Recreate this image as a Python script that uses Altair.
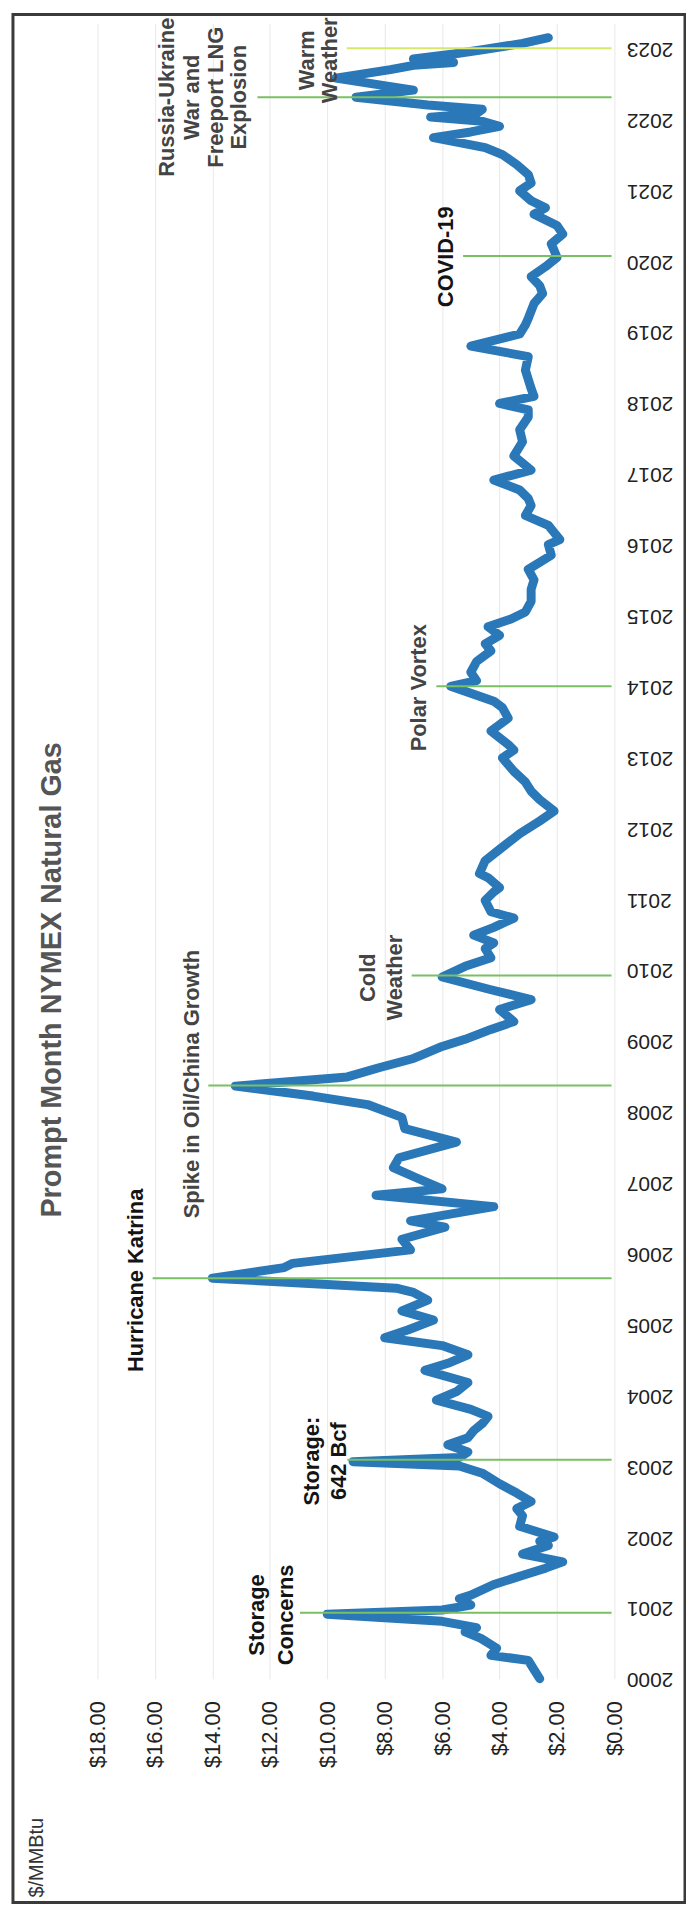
import altair as alt
import pandas as pd

# ---- price series (decimal year, $/MMBtu) ----
t_vals = [
    2000.00, 2000.13, 2000.26, 2000.33, 2000.43, 2000.57, 2000.66, 2000.72, 2000.81, 2000.91,
    2000.97, 2001.04, 2001.13, 2001.18, 2001.33, 2001.47, 2001.56, 2001.65, 2001.76, 2001.88,
    2001.94, 2002.00, 2002.15, 2002.30, 2002.40, 2002.50, 2002.62, 2002.75, 2002.90, 2003.00,
    2003.06, 2003.12, 2003.20, 2003.30, 2003.40, 2003.50, 2003.60, 2003.70, 2003.80, 2003.93,
    2004.05, 2004.18, 2004.35, 2004.45, 2004.57, 2004.70, 2004.81, 2004.92, 2005.06, 2005.19,
    2005.34, 2005.45, 2005.51, 2005.65, 2005.80, 2005.86, 2006.05, 2006.20, 2006.37, 2006.46,
    2006.66, 2006.82, 2006.91, 2007.05, 2007.21, 2007.35, 2007.57, 2007.76, 2007.92, 2008.10,
    2008.22, 2008.36, 2008.49, 2008.62, 2008.75, 2008.80, 2008.92, 2009.02, 2009.16, 2009.27,
    2009.44, 2009.58, 2009.72, 2009.90, 2010.05, 2010.17, 2010.30, 2010.38, 2010.49, 2010.60,
    2010.73, 2010.82, 2010.98, 2011.10, 2011.16, 2011.30, 2011.36, 2011.54, 2011.70, 2011.92,
    2012.10, 2012.24, 2012.40, 2012.52, 2012.65, 2012.80, 2012.99, 2013.10, 2013.18, 2013.37,
    2013.55, 2013.70, 2013.79, 2014.00, 2014.08, 2014.20, 2014.35, 2014.50, 2014.60, 2014.72,
    2014.84, 2014.95, 2015.05, 2015.20, 2015.37, 2015.50, 2015.65, 2015.85, 2016.00, 2016.07,
    2016.17, 2016.27, 2016.41, 2016.55, 2016.65, 2016.77, 2016.91, 2017.05, 2017.25, 2017.45,
    2017.62, 2017.80, 2017.90, 2017.99, 2018.09, 2018.20, 2018.46, 2018.65, 2018.80, 2018.97,
    2019.10, 2019.19, 2019.40, 2019.54, 2019.65, 2019.78, 2019.92, 2020.05, 2020.15, 2020.24,
    2020.38, 2020.50, 2020.66, 2020.75, 2020.85, 2020.99, 2021.10, 2021.22, 2021.36, 2021.50,
    2021.60, 2021.74, 2021.82, 2021.90, 2021.97, 2022.03, 2022.08, 2022.14, 2022.20, 2022.31,
    2022.41, 2022.58, 2022.70, 2022.76, 2022.80, 2022.85, 2022.92, 2022.98, 2023.07, 2023.15,
]
prices = [
    2.6, 2.8, 3.0, 4.3, 4.1, 4.65, 5.2, 4.8, 6.0, 10.0,
    6.0, 5.0, 5.4, 5.0, 4.2, 3.1, 2.4, 1.8, 3.2, 2.3,
    2.6, 2.1, 3.3, 3.2, 3.4, 2.9, 3.4, 4.0, 4.6, 5.4,
    9.1, 5.4, 5.1, 5.8, 5.1, 4.9, 4.6, 4.4, 5.0, 6.2,
    5.5, 5.1, 6.6, 5.8, 5.1, 6.0, 8.0, 7.2, 6.3, 7.4,
    6.5, 7.0, 7.6, 14.0, 11.5, 11.2, 7.1, 7.4, 5.9, 7.1,
    4.2, 8.3, 6.0, 6.8, 7.7, 7.5, 5.5, 7.3, 7.4, 8.6,
    10.5, 13.2, 9.3, 8.2, 7.0, 6.7, 6.0, 5.2, 4.3, 3.5,
    4.0, 2.9, 4.3, 6.0, 5.2, 4.3, 4.5, 4.2, 4.9, 4.2,
    3.5, 4.3, 4.5, 4.2, 4.0, 4.4, 4.7, 4.5, 4.0, 3.3,
    2.6, 2.1, 2.6, 2.9, 3.1, 3.5, 3.9, 3.5, 3.7, 4.3,
    3.7, 3.9, 4.2, 5.7, 4.8, 5.0, 4.8, 4.3, 4.5, 4.0,
    4.4, 3.6, 3.1, 2.9, 2.9, 2.8, 3.0, 2.2, 2.3, 1.9,
    2.1, 2.3, 3.1, 2.9, 3.0, 3.3, 4.2, 2.9, 3.5, 3.2,
    3.3, 3.0, 3.0, 4.0, 2.8, 2.9, 3.1, 3.0, 5.0, 3.3,
    3.1, 3.0, 2.8, 2.5, 2.6, 2.9, 2.4, 2.0, 2.1, 2.2,
    1.8, 2.0, 2.8, 2.4, 2.9, 3.3, 2.9, 3.0, 3.4, 3.9,
    4.5, 6.3, 5.0, 4.0, 4.6, 6.4, 4.8, 4.6, 6.5, 9.0,
    7.0, 9.7, 7.8, 7.0, 5.6, 7.0, 5.6, 4.6, 3.2, 2.3,
]

# ---- event marker lines ----
event_t = [2000.93, 2003.09, 2005.65, 2008.37, 2009.92, 2014.00, 2020.07, 2022.31, 2023.00]
event_p_start = [10.95, 9.3, 16.08, 14.14, 7.06, 6.2, 5.27, 12.43, 9.32]
event_p_end = [0.1] * 9
event_kind = ["event"] * 8 + ["latest"]

# ---- annotation text (one row per printed line) ----
label_text = ["Storage", "Concerns", "Storage:", "642 Bcf", "Hurricane Katrina",
              "Spike in Oil/China Growth", "Cold", "Weather", "Polar Vortex", "COVID-19",
              "Russia-Ukraine", "War and", "Freeport LNG", "Explosion", "Warm", "Weather"]
label_t = [2000.90, 2000.90, 2003.07, 2003.07, 2005.62, 2008.39, 2009.89, 2009.89,
           2013.98, 2020.06, 2022.31, 2022.31, 2022.31, 2022.31, 2022.83, 2022.83]
label_p = [12.46, 11.45, 10.52, 9.6, 16.65, 14.7, 8.58, 7.65, 6.8, 5.87,
           15.57, 14.7, 13.86, 13.08, 10.69, 9.9]
label_tone = ["dark", "dark", "dark", "dark", "dark", "gray", "gray", "gray", "gray", "dark",
              "gray", "gray", "gray", "gray", "gray", "gray"]

price_ticks = [0, 2, 4, 6, 8, 10, 12, 14, 16, 18]
year_ticks = list(range(2000, 2024))

chart_title = ["Prompt Month NYMEX Natural Gas"]
unit_label = ["$/MMBtu"]

FONT = "Liberation Sans"

series = pd.DataFrame({"i": list(range(len(t_vals))), "year": t_vals, "price": prices})
events = pd.DataFrame({"year": event_t, "price": event_p_start, "price2": event_p_end, "kind": event_kind})
labels = pd.DataFrame({"label": label_text, "year": label_t, "price": label_p, "tone": label_tone})

x_scale = alt.Scale(domain=[0, 18], reverse=True, nice=False, zero=False)
y_scale = alt.Scale(domain=[2000, 2023.35], nice=False, zero=False)

x_axis = alt.Axis(values=price_ticks, format="$.2f", labelAngle=270, labelAlign="right",
                  labelBaseline="middle", labelFontSize=22, labelPadding=22, labelFlush=False,
                  labelColor="#222222", labelFont=FONT, grid=True, gridColor="#e8e8e8",
                  gridWidth=1, domain=False, ticks=False, title=None, labelOverlap=False)
y_axis = alt.Axis(orient="right", values=year_ticks, format="d", labelAngle=180,
                  labelAlign="right", labelBaseline="middle", labelFontSize=21,
                  labelPadding=12, labelColor="#222222", labelFont=FONT, grid=False,
                  domain=False, ticks=False, title=None, labelOverlap=False, labelFlush=False)

line = alt.Chart(series).mark_line(color="#2a78b8", strokeWidth=9, strokeJoin="round",
                                   strokeCap="round").encode(
    x=alt.X("price:Q", scale=x_scale, axis=x_axis),
    y=alt.Y("year:Q", scale=y_scale, axis=y_axis),
    order=alt.Order("i:Q"),
)

rules_main = alt.Chart(events).transform_filter(alt.datum.kind == "event").mark_rule(
    strokeWidth=2, color="#78c063").encode(
    x=alt.X("price:Q", scale=x_scale),
    x2="price2:Q",
    y=alt.Y("year:Q", scale=y_scale),
)
rules_latest = alt.Chart(events).transform_filter(alt.datum.kind == "latest").mark_rule(
    strokeWidth=2, color="#d6e76c").encode(
    x=alt.X("price:Q", scale=x_scale),
    x2="price2:Q",
    y=alt.Y("year:Q", scale=y_scale),
)

def note_layer(tone, colour):
    return alt.Chart(labels).transform_filter(alt.datum.tone == tone).mark_text(
        angle=270, align="center", baseline="middle", fontSize=22, fontWeight="bold",
        font=FONT, color=colour).encode(
        x=alt.X("price:Q", scale=x_scale),
        y=alt.Y("year:Q", scale=y_scale),
        text="label:N",
    )

notes_dark = note_layer("dark", "#141414")
notes_gray = note_layer("gray", "#444444")

title_txt = alt.Chart(pd.DataFrame({"t": chart_title})).mark_text(
    angle=270, align="center", baseline="middle", fontSize=29, fontWeight="bold",
    font=FONT, color="#555555").encode(
    x=alt.value(-46), y=alt.value(962), text="t:N")

unit_txt = alt.Chart(pd.DataFrame({"t": unit_label})).mark_text(
    angle=270, align="center", baseline="middle", fontSize=20,
    font=FONT, color="#333333").encode(
    x=alt.value(-61), y=alt.value(1845), text="t:N")

frame = alt.Chart(pd.DataFrame({"f": [1]})).mark_rect(
    fill=None, fillOpacity=0, stroke="#3a3a3a", strokeWidth=3).encode(
    x=alt.value(-85), x2=alt.value(591), y=alt.value(-9), y2=alt.value(1890))

chart = alt.layer(frame, line, rules_main, rules_latest, notes_dark, notes_gray,
                  title_txt, unit_txt).properties(
    width=520, height=1665,
    padding={"left": 90, "top": 10, "right": 72, "bottom": 228},
    autosize=alt.AutoSizeParams(type="none"),
    background="white",
).configure_view(stroke=None)

chart.save("out.html", embed_options={"renderer": "svg", "actions": False})
